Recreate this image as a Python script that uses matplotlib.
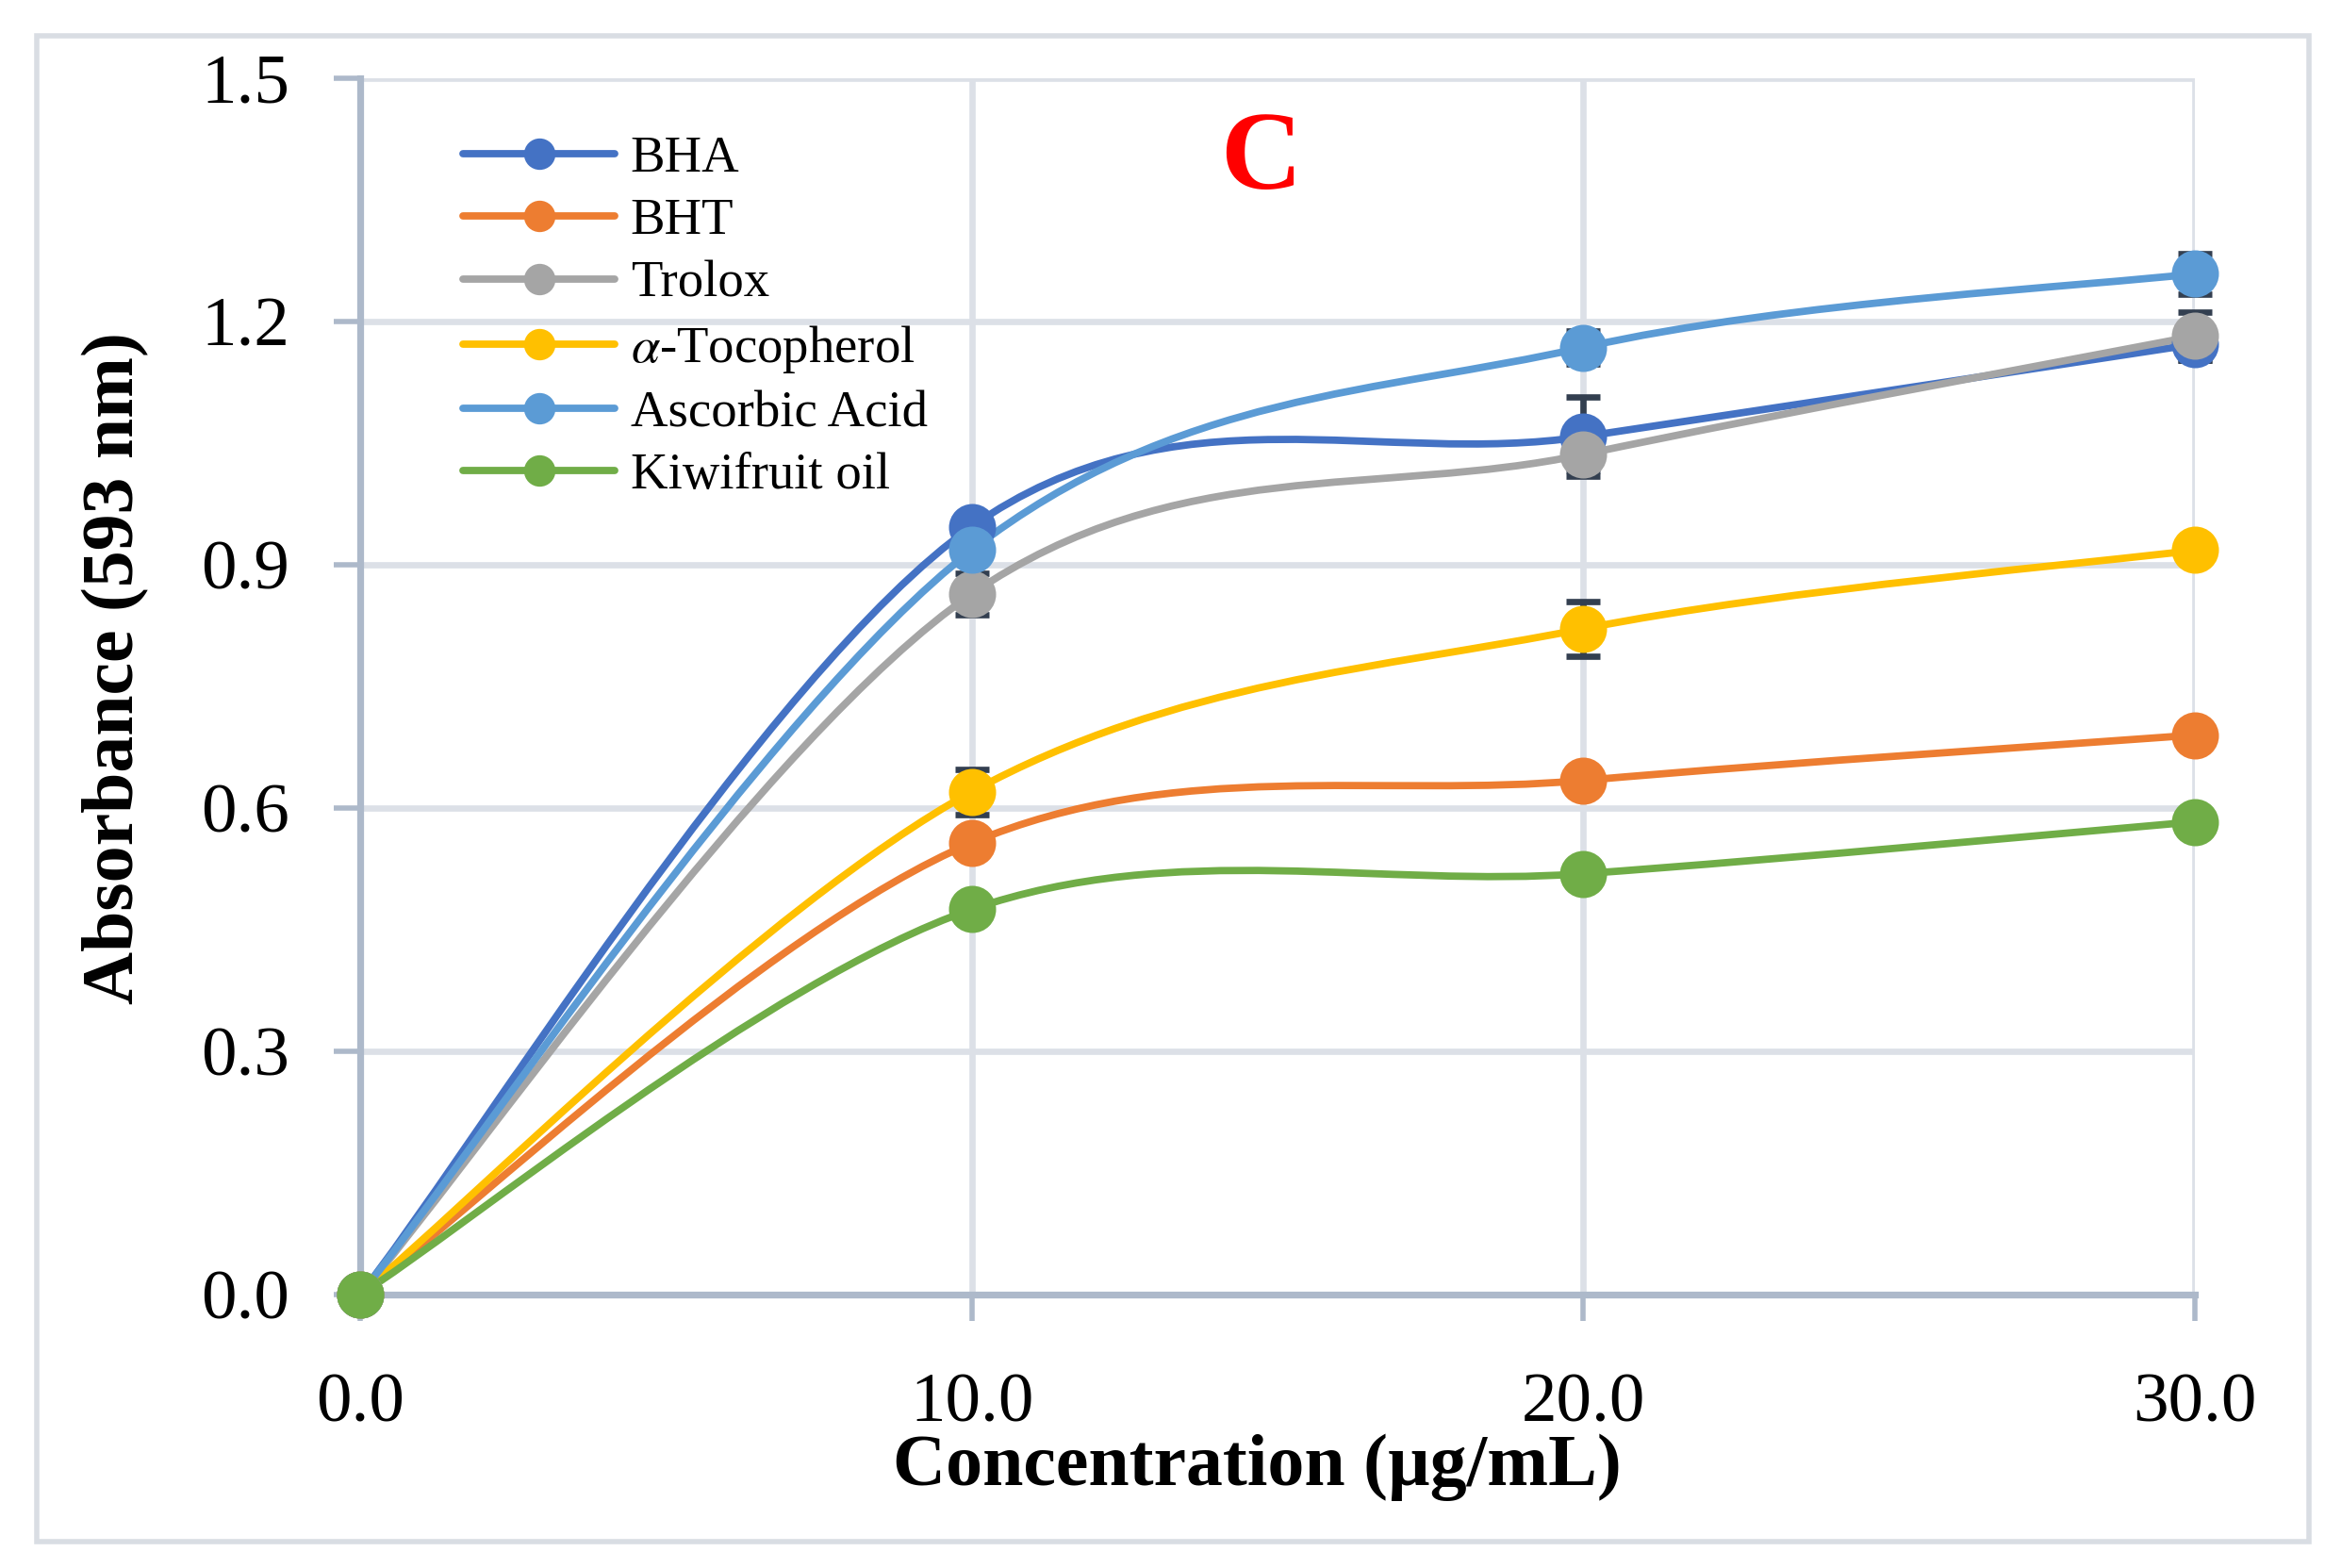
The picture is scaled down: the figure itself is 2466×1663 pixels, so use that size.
import matplotlib
matplotlib.use("Agg")
import matplotlib.pyplot as plt
from matplotlib.path import Path
from matplotlib.patches import PathPatch, Rectangle
from matplotlib.lines import Line2D

# Data
concentration = [0.0, 10.0, 20.0, 30.0]
bha = [0.0, 0.947, 1.058, 1.172]
bht = [0.0, 0.557, 0.634, 0.690]
trolox = [0.0, 0.864, 1.036, 1.182]
tocopherol = [0.0, 0.620, 0.821, 0.918]
ascorbic = [0.0, 0.918, 1.168, 1.259]
kiwi = [0.0, 0.475, 0.519, 0.583]

bha_err = [0.0, 0.010, 0.049, 0.020]
bht_err = [0.0, 0.010, 0.010, 0.010]
trolox_err = [0.0, 0.026, 0.020, 0.030]
tocopherol_err = [0.0, 0.028, 0.034, 0.010]
ascorbic_err = [0.0, 0.010, 0.020, 0.025]
kiwi_err = [0.0, 0.010, 0.010, 0.015]

labels = ["BHA", "BHT", "Trolox", r"$\alpha$-Tocopherol", "Ascorbic Acid", "Kiwifruit oil"]
colors = ["#4472C4", "#ED7D31", "#A5A5A5", "#FFC000", "#5B9BD5", "#70AD47"]
series = [bha, bht, trolox, tocopherol, ascorbic, kiwi]
errors = [bha_err, bht_err, trolox_err, tocopherol_err, ascorbic_err, kiwi_err]


def smooth_path(x, y):
    # Excel-style smoothed line: cubic Bezier segments through the points
    pts = list(zip(x, y))
    n = len(pts)
    verts = [pts[0]]
    codes = [Path.MOVETO]
    for i in range(n - 1):
        p0 = pts[max(i - 1, 0)]
        p1 = pts[i]
        p2 = pts[i + 1]
        p3 = pts[min(i + 2, n - 1)]
        c1 = (p1[0] + (p2[0] - p0[0]) / 6, p1[1] + (p2[1] - p0[1]) / 6)
        c2 = (p2[0] - (p3[0] - p1[0]) / 6, p2[1] - (p3[1] - p1[1]) / 6)
        verts += [c1, c2, p2]
        codes += [Path.CURVE4] * 3
    return Path(verts, codes)


plt.rcParams["font.family"] = ["Liberation Serif", "DejaVu Serif"]
plt.rcParams["mathtext.fontset"] = "stix"

fig = plt.figure(figsize=(12.33, 8.315), dpi=200)
ax = fig.add_axes([0.1549, 0.1744, 0.7891, 0.7757])

# outer chart border
fig.patches.append(Rectangle((0.016, 0.017), 0.977, 0.96, transform=fig.transFigure,
                             fill=False, edgecolor="#D9DDE3", linewidth=2.0))

line_w = 2.8
for vals, err, col in zip(series, errors, colors):
    ax.errorbar(concentration, vals, yerr=err, fmt="none", ecolor="#333F50",
                elinewidth=2.4, capsize=6.5, capthick=2.4, zorder=3, clip_on=False)

handles = []
for vals, col, lab in zip(series, colors, labels):
    patch = PathPatch(smooth_path(concentration, vals), facecolor="none", edgecolor=col,
                      linewidth=line_w, zorder=4, capstyle="round", clip_on=False)
    ax.add_patch(patch)
    ax.plot(concentration, vals, linestyle="none", marker="o", markersize=16.5,
            markerfacecolor=col, markeredgecolor=col, markeredgewidth=1.5,
            zorder=5, clip_on=False)
    handles.append(Line2D([0], [0], color=col, linewidth=line_w, marker="o",
                          markersize=11, markerfacecolor=col, markeredgecolor=col,
                          solid_capstyle="round", label=lab))

ax.set_xlim(0, 30)
ax.set_ylim(0, 1.5)
ax.set_xticks(concentration)
ax.set_xticklabels([f"{v:.1f}" for v in concentration])
ax.set_yticks([0.0, 0.3, 0.6, 0.9, 1.2, 1.5])
ax.set_yticklabels([f"{v:.1f}" for v in [0.0, 0.3, 0.6, 0.9, 1.2, 1.5]])

ax.grid(True, color="#DCE0E7", linewidth=2.4, zorder=0)
ax.set_axisbelow(True)
for side in ["top", "right"]:
    ax.spines[side].set_visible(False)
for side in ["left", "bottom"]:
    ax.spines[side].set_color("#ADB9CA")
    ax.spines[side].set_linewidth(2.6)
ax.tick_params(axis="both", direction="out", length=10, width=2.0,
               color="#ADB9CA", labelsize=27)
ax.tick_params(axis="x", pad=20)
ax.tick_params(axis="y", pad=17)

ax.set_xlabel("Concentration (\u00b5g/mL)", fontsize=28, fontweight="bold")
ax.set_ylabel("Absorbance (593 nm)", fontsize=28, fontweight="bold")
ax.xaxis.set_label_coords(0.489, -0.114)
ax.yaxis.set_label_coords(-0.115, 0.515)

ax.text(0.491, 0.931, "C", transform=ax.transAxes, color="#FF0000",
        fontsize=43, fontweight="bold", ha="center", va="center")

ax.legend(handles=handles, loc="upper left", bbox_to_anchor=(0.056, 0.953),
          frameon=False, fontsize=19.7, handlelength=2.95, handletextpad=0.3,
          labelspacing=0.29, borderaxespad=0, borderpad=0)

fig.savefig("out.png", dpi=200)
